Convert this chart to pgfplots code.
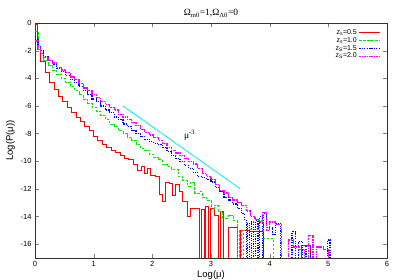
\documentclass[border=0pt]{standalone}
\usepackage{fontspec}
\setmainfont{Liberation Sans}
\newfontfamily\seriffont{Liberation Serif}
\usepackage{pgfplots}
\pgfplotsset{compat=1.18}
\definecolor{gred}{RGB}{255,0,0}
\definecolor{ggreen}{RGB}{0,230,0}
\definecolor{gblue}{RGB}{0,0,255}
\definecolor{gmag}{RGB}{255,0,255}
\definecolor{gcyan}{RGB}{0,230,230}
\begin{document}
\begin{tikzpicture}
\begin{axis}[
  at={(0,0)}, anchor=south west,
  scale only axis, width=352pt, height=235pt,
  xmin=0, xmax=6, ymin=-17, ymax=0,
  xtick={0,1,2,3,4,5,6}, ytick={0,-2,-4,-6,-8,-10,-12,-14,-16},
  tick align=inside, tick pos=both,
  major tick length=4pt,
  /pgf/number format/assume math mode=true,
  tick label style={font=\fontsize{7.5}{8}\selectfont},
  axis line style={black!80, line width=0.6pt},
  xlabel={Log(μ)}, ylabel={Log(P(μ))},
  label style={font=\fontsize{9.5}{10}\selectfont},
  xlabel style={yshift=3pt},
  ylabel style={yshift=-1pt},
  title={\seriffont Ω\textsubscript{m0}=1,Ω\textsubscript{Λ0}=0},
  title style={font=\fontsize{9.5}{10}\selectfont, yshift=-4pt},
  legend plot pos=right,
  legend cell align=right,
  legend style={draw=none, fill=none, at={(0.985,0.985)}, anchor=north east,
    font=\fontsize{7}{7}\selectfont, row sep=-2.6pt, inner sep=1pt},
  legend image post style={xscale=1.2},
  const plot mark left,
]
\addplot[gred, line width=0.9pt, no marks] coordinates {
(0,-0.1) (0.05,-1.9) (0.1,-2.8) (0.17,-3.6) (0.25,-4.3) (0.33,-4.8) (0.4,-5.3) (0.47,-5.7) (0.55,-6.1) (0.62,-6.5) (0.7,-6.8) (0.77,-7.1) (0.85,-7.5) (0.92,-7.8) (1.0,-8.2) (1.07,-8.5) (1.15,-8.8) (1.22,-9.0) (1.3,-9.2) (1.37,-9.4) (1.45,-9.6) (1.52,-9.8) (1.6,-9.9) (1.67,-10.2) (1.75,-10.7) (1.82,-10.4) (1.87,-10.9) (1.92,-10.5) (1.97,-11.0) (2.05,-11.1) (2.12,-12.4) (2.17,-12.9) (2.22,-11.5) (2.3,-11.6) (2.35,-12.5) (2.4,-11.7) (2.47,-12.2) (2.52,-12.9) (2.6,-14.0) (2.65,-13.4) (2.8,-20) (2.84,-13.5) (2.88,-20) (2.9,-13.3) (2.96,-20) (2.99,-13.4) (3.06,-13.9) (3.12,-20) (3.16,-13.6) (3.22,-20) (3.3,-14.8) (3.45,-20) (3.5,-15.0) (3.65,-15.1) (3.9,-20) (4.55,-16.1) (4.7,-20) (5.0,-20)
};
\addlegendentry{z\textsubscript{s}=0.5}
\addplot[ggreen, line width=0.8pt, no marks, dash pattern=on 2.5pt off 1.5pt] coordinates {
(0,-0.6) (0.05,-1.9) (0.1,-2.2) (0.15,-2.7) (0.22,-3.1) (0.3,-3.4) (0.37,-3.7) (0.45,-4.0) (0.52,-4.3) (0.6,-4.6) (0.67,-4.9) (0.75,-5.2) (0.82,-5.5) (0.9,-5.8) (0.97,-6.1) (1.05,-6.4) (1.12,-6.7) (1.2,-7.0) (1.27,-7.3) (1.35,-7.5) (1.42,-7.8) (1.5,-8.0) (1.57,-8.3) (1.65,-8.5) (1.72,-8.8) (1.8,-9.1) (1.87,-9.2) (1.95,-9.5) (2.02,-9.7) (2.1,-9.9) (2.17,-10.2) (2.25,-10.4) (2.32,-10.6) (2.4,-10.6) (2.45,-11.1) (2.52,-11.4) (2.6,-11.8) (2.65,-11.5) (2.72,-12.3) (2.8,-12.2) (2.85,-12.6) (2.92,-12.8) (3.0,-13.5) (3.05,-13.2) (3.12,-13.6) (3.2,-14.1) (3.3,-13.9) (3.38,-14.3) (3.45,-20) (3.48,-15.0) (3.52,-20) (3.55,-15.0) (3.6,-14.9) (3.8,-14.3) (3.9,-15.6) (4.07,-20) (5.0,-20)
};
\addlegendentry{z\textsubscript{s}=1.0}
\addplot[gblue, line width=1.2pt, no marks, dash pattern=on 1.2pt off 1.2pt] coordinates {
(0,-1.2) (0.05,-1.7) (0.1,-2.0) (0.15,-2.4) (0.22,-2.7) (0.3,-3.0) (0.37,-3.3) (0.45,-3.5) (0.52,-3.8) (0.6,-4.1) (0.67,-4.3) (0.75,-4.6) (0.82,-4.9) (0.9,-5.2) (0.97,-5.5) (1.05,-5.7) (1.12,-6.0) (1.2,-6.3) (1.27,-6.5) (1.35,-6.8) (1.42,-7.0) (1.5,-7.3) (1.57,-7.5) (1.65,-7.8) (1.72,-8.0) (1.8,-8.2) (1.87,-8.4) (1.95,-8.6) (2.02,-8.7) (2.1,-8.8) (2.17,-9.0) (2.25,-9.3) (2.32,-9.6) (2.4,-9.8) (2.47,-10.0) (2.55,-10.3) (2.62,-10.5) (2.7,-10.8) (2.77,-11.1) (2.85,-11.2) (2.92,-11.3) (3.0,-11.5) (3.07,-11.9) (3.15,-12.2) (3.22,-12.6) (3.3,-12.8) (3.37,-13.1) (3.45,-13.4) (3.52,-13.8) (3.57,-14.2) (3.6,-20) (3.62,-14.5) (3.66,-20) (3.69,-14.4) (3.73,-20) (3.76,-14.3) (3.8,-20) (3.83,-14.0) (3.88,-20) (3.9,-13.8) (3.95,-14.8) (4.05,-15.3) (4.1,-14.5) (4.18,-20) (4.38,-15.1) (4.44,-20) (4.49,-15.8) (4.56,-20) (4.62,-16.1) (4.7,-20) (4.98,-15.7) (5.03,-20)
};
\addlegendentry{z\textsubscript{S}=1.5}
\addplot[gmag, line width=1.2pt, no marks, dash pattern=on 1.6pt off 0.8pt] coordinates {
(0,-1.3) (0.05,-1.8) (0.1,-2.2) (0.15,-2.5) (0.22,-2.7) (0.3,-2.9) (0.37,-3.2) (0.45,-3.4) (0.52,-3.6) (0.6,-3.9) (0.67,-4.1) (0.75,-4.4) (0.82,-4.7) (0.9,-4.9) (0.97,-5.2) (1.05,-5.4) (1.12,-5.7) (1.2,-5.9) (1.27,-6.1) (1.35,-6.3) (1.42,-6.6) (1.5,-6.8) (1.57,-7.0) (1.65,-7.2) (1.72,-7.4) (1.8,-7.7) (1.87,-7.9) (1.95,-8.1) (2.02,-8.3) (2.1,-8.5) (2.17,-8.7) (2.25,-9.0) (2.32,-9.2) (2.4,-9.4) (2.47,-9.6) (2.55,-9.8) (2.62,-10.0) (2.7,-10.2) (2.77,-10.5) (2.85,-10.9) (2.92,-11.1) (3.0,-11.3) (3.07,-11.7) (3.15,-12.1) (3.22,-12.3) (3.3,-12.6) (3.37,-12.8) (3.45,-13.0) (3.52,-13.2) (3.6,-13.6) (3.67,-14.0) (3.75,-14.2) (3.82,-14.4) (3.88,-13.7) (3.95,-15.0) (4.0,-14.4) (4.1,-14.6) (4.2,-20) (4.32,-15.7) (4.4,-16.2) (4.5,-16.4) (4.6,-20) (4.66,-15.4) (4.74,-20) (4.8,-16.2) (4.92,-16.4) (5.0,-20)
};
\addlegendentry{z\textsubscript{S}=2.0}
\addplot[gcyan, line width=1.1pt, no marks, sharp plot, dash pattern=on 1pt off 0.6pt, forget plot] coordinates {(1.5,-6) (3.5,-12)};
\node[font=\seriffont\fontsize{9.5}{10}\selectfont, anchor=west] at (axis cs:2.48,-8.1) {μ\textsuperscript{-3}};
\end{axis}
\pgfresetboundingbox
\path (-35pt,-22pt) rectangle (365pt,258pt);
\end{tikzpicture}
\end{document}
